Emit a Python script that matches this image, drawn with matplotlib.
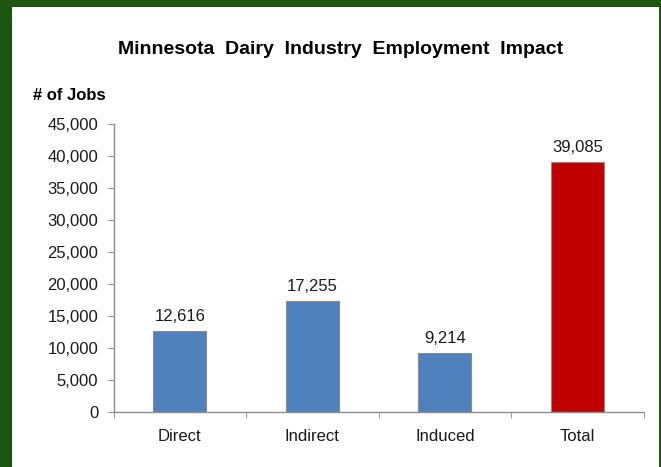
import matplotlib.pyplot as plt
from matplotlib.patches import Rectangle
from matplotlib.ticker import FuncFormatter, FixedLocator

plt.rcParams['font.family'] = ['Liberation Sans', 'DejaVu Sans']

# 数据：
categories = ['Direct', 'Indirect', 'Induced', 'Total']
jobs = [12616, 17255, 9214, 39085]
bar_colors = ['#4f81bd', '#4f81bd', '#4f81bd', '#c00000']

fig = plt.figure(figsize=(6.61, 4.67), dpi=100, facecolor='#1f560f')

# 白色底板：
fig.patches.append(Rectangle((12 / 661, 0), 647 / 661, 460 / 467,
                             transform=fig.transFigure, facecolor='white',
                             edgecolor='none', zorder=-5))

ax = fig.add_axes([113.6 / 661, 1 - 411.7 / 467, 530.2 / 661, 287.7 / 467])
ax.set_facecolor('white')
ax.set_zorder(2)

x = list(range(len(categories)))
bars = ax.bar(x, jobs, width=0.4, color=bar_colors, edgecolor='#8c8c8c', linewidth=0.8)

for b, v in zip(bars, jobs):
    ax.annotate(f'{v:,}', (b.get_x() + b.get_width() / 2, v), xytext=(0, 5),
                textcoords='offset points', ha='center', va='bottom',
                fontsize=12, color='#1a1a1a')

ax.set_xlim(-0.5, 3.5)
ax.set_ylim(0, 45000)
ax.set_yticks(range(0, 45001, 5000))
ax.yaxis.set_major_formatter(FuncFormatter(lambda v, p: f'{int(v):,}'))

ax.set_xticks(x)
ax.set_xticklabels(categories)
ax.xaxis.set_minor_locator(FixedLocator([-0.5, 0.5, 1.5, 2.5, 3.5]))
ax.tick_params(axis='x', which='major', length=0, pad=12.5, labelsize=12, labelcolor='#1a1a1a')
ax.tick_params(axis='x', which='minor', length=4, color='#8c8c8c', direction='out')
ax.tick_params(axis='y', length=4, color='#8c8c8c', pad=7, labelsize=12, labelcolor='#1a1a1a')

for s in ['top', 'right']:
    ax.spines[s].set_visible(False)
for s in ['left', 'bottom']:
    ax.spines[s].set_color('#8c8c8c')
    ax.spines[s].set_linewidth(1)

fig.text(340.5 / 661, 1 - 50 / 467, 'Minnesota  Dairy  Industry  Employment  Impact',
         ha='center', va='center', fontsize=14, fontweight='bold')
fig.text(33 / 661, 1 - 96 / 467, '# of Jobs', ha='left', va='center',
         fontsize=12, fontweight='bold')

fig.savefig('out.png', dpi=100, facecolor=fig.get_facecolor())
